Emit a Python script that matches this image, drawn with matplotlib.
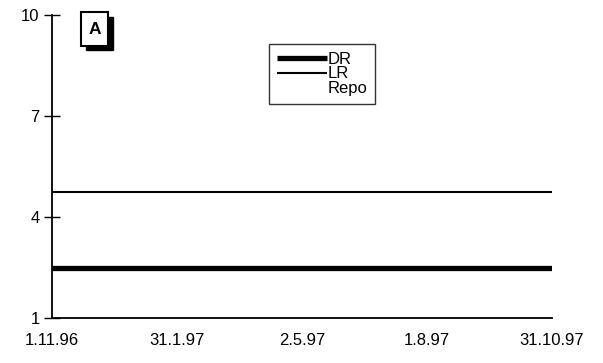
import numpy as np
import matplotlib.pyplot as plt
import matplotlib.dates as mdates
from datetime import date
from matplotlib.patches import Rectangle

plt.rcParams['font.family'] = ['Liberation Sans', 'DejaVu Sans']

# Zinssätze (flach über den Zeitraum)
dates = [date(1996, 11, 1), date(1997, 10, 31)]
dr = [2.5, 2.5]
lr = [4.75, 4.75]
repo = [3.5, 3.5]

tick_dates = [date(1996, 11, 1), date(1997, 1, 31), date(1997, 5, 2),
              date(1997, 8, 1), date(1997, 10, 31)]
tick_labels = ['1.11.96', '31.1.97', '2.5.97', '1.8.97', '31.10.97']
y_ticks = [1, 4, 7, 10]

fig = plt.figure(figsize=(6.03, 3.63), dpi=100)
ax = fig.add_axes([52 / 603, 45 / 363, 500 / 603, 303 / 363])

ax.plot(dates, dr, color='black', lw=3.8, solid_capstyle='butt', label='DR')
ax.plot(dates, lr, color='black', lw=1.5, solid_capstyle='butt', label='LR')
ax.plot(dates, repo, color='white', lw=1.0, label='Repo')

ax.set_xlim(dates[0], dates[-1])
ax.set_ylim(1, 10)
ax.set_yticks(y_ticks)
ax.set_xticks([mdates.date2num(d) for d in tick_dates])
ax.set_xticklabels(tick_labels)

for s in ['top', 'right']:
    ax.spines[s].set_visible(False)
ax.spines['left'].set_linewidth(1.3)
ax.spines['bottom'].set_linewidth(1.3)

ax.tick_params(axis='y', direction='inout', length=12, width=1.0,
               labelsize=12, pad=3)
ax.tick_params(axis='x', length=0, labelsize=12, pad=11)

leg = ax.legend(loc='upper left', bbox_to_anchor=(217 / 500, 1 - 29 / 303),
                frameon=True, fancybox=False, edgecolor='black',
                fontsize=12, handlelength=3.0, handletextpad=0.05,
                labelspacing=0.0, borderpad=0.45, borderaxespad=0)
leg.get_frame().set_linewidth(1.0)

# Kennbuchstabe mit Schatten
fig.patches.append(Rectangle((86 / 603, 1 - 50 / 363), 27 / 603, 33 / 363,
                             transform=fig.transFigure, facecolor='black',
                             edgecolor='black'))
fig.patches.append(Rectangle((81 / 603, 1 - 46 / 363), 27 / 603, 34 / 363,
                             transform=fig.transFigure, facecolor='white',
                             edgecolor='black', lw=1.5))
fig.text(94.5 / 603, 1 - 29 / 363, 'A', ha='center', va='center',
         fontsize=12.5, fontweight='bold')

plt.savefig('out.png', dpi=100)
